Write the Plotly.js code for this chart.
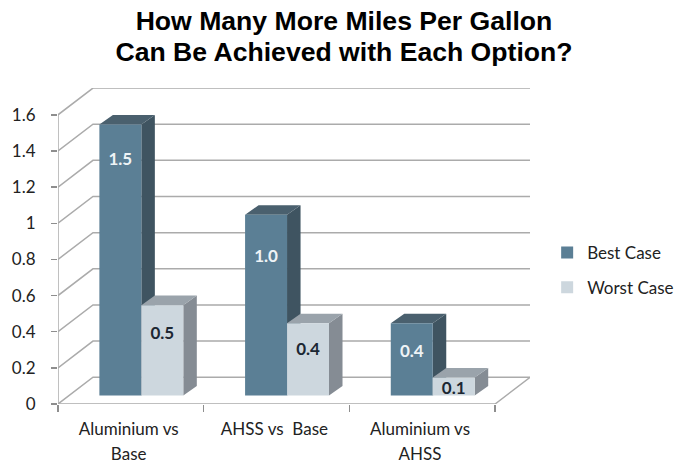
<!DOCTYPE html>
<html>
<head>
<meta charset="utf-8">
<script src="https://cdn.plot.ly/plotly-3.0.1.min.js"></script>
<style>html,body{margin:0;padding:0;background:#fff}</style>
</head>
<body>
<div id="chart" style="width:675px;height:460px"></div>
<script>
const categories = ['Aluminium vs', 'AHSS vs  Base', 'Aluminium vs'];
const categoriesLine2 = ['Base', '', 'AHSS'];
const bestCase = [1.5, 1.0, 0.4];
const worstCase = [0.5, 0.4, 0.1];
const yTicks = [0, 0.2, 0.4, 0.6, 0.8, 1, 1.2, 1.4, 1.6];
const yTickLabels = ['0', '0.2', '0.4', '0.6', '0.8', '1', '1.2', '1.4', '1.6'];

// Oblique projection, in axis units
const wallDx = 0.24, wallDy = 0.148;
const barDx = 0.0927, barDy = 0.0526;
const barLift = 0.047, barShift = 0.072, barW = 0.288;
const bestDrop = [0.199, 0.238, 0.166];
const worstDrop = [0.166, 0.155, 0.068];

const groupX = categories.map((_, i) => i + barShift);
const FONT = 'Lato, "Open Sans", sans-serif';

function polys(values, x0Of) {
  const side = {x: [], y: []}, top = {x: [], y: []};
  values.forEach((v, i) => {
    const x0 = x0Of(i), x1 = x0 + barW, t = barLift + v;
    side.x.push(x1, x1 + barDx, x1 + barDx, x1, x1, null);
    side.y.push(barLift, barLift + barDy, t + barDy, t, barLift, null);
    top.x.push(x0, x1, x1 + barDx, x0 + barDx, x0, null);
    top.y.push(t, t, t + barDy, t + barDy, t, null);
  });
  return {side, top};
}
function face(p, color, z) {
  return {type: 'scatter', mode: 'lines', x: p.x, y: p.y, fill: 'toself', fillcolor: color,
    line: {width: 0, color: color}, showlegend: false, hoverinfo: 'skip', cliponaxis: false, zorder: z};
}

// Walls and floor
const gx = [], gy = [];
yTicks.forEach(v => {
  gx.push(-0.5, -0.5 + wallDx, 2.5 + wallDx, null);
  gy.push(v, v + wallDy, v + wallDy, null);
});
gx.push(-0.5, -0.5, null, -0.5, 2.5, 2.5 + wallDx, null);
gy.push(0, 1.6, null, 0, 0, wallDy, null);
const grid = {type: 'scatter', mode: 'lines', x: gx, y: gy, connectgaps: false,
  line: {color: '#ababab', width: 1.5}, showlegend: false, hoverinfo: 'skip', cliponaxis: false, zorder: 0};

const bestX0 = i => groupX[i] - barW, worstX0 = i => groupX[i];
const bestP = polys(bestCase, bestX0), worstP = polys(worstCase, worstX0);

function bar(name, values, offset, color, z) {
  return {type: 'bar', name: name, legendgroup: name, x: groupX, y: values,
    base: values.map(() => barLift), width: barW, offset: offset,
    marker: {color: color, line: {width: 0}}, zorder: z};
}
function labels(values, drop, xOff, color) {
  return {type: 'scatter', mode: 'text', x: groupX.map(x => x + xOff),
    y: values.map((v, i) => barLift + v - drop[i]), text: values.map(v => v.toFixed(1)),
    textposition: 'middle center', textfont: {family: FONT, size: 17, color: color, weight: 700},
    showlegend: false, hoverinfo: 'skip', cliponaxis: false, zorder: 9};
}

const traces = [
  grid,
  face(bestP.side, '#3f5461', 1), face(bestP.top, '#4a606e', 1),
  bar('Best Case', bestCase, -barW, '#5b7f95', 2),
  face(worstP.side, '#858c94', 3), face(worstP.top, '#9aa3ab', 3),
  bar('Worst Case', worstCase, 0, '#cdd7de', 4),
  labels(bestCase, bestDrop, -barW / 2, '#eef3f6'),
  labels(worstCase, worstDrop, barW / 2, '#1c2733')
];

const ts = '<span style="font-size:26.6px">';
const layout = {
  width: 675, height: 460,
  margin: {l: 58, r: 0, t: 88, b: 56, pad: 0, autoexpand: false},
  paper_bgcolor: '#fff', plot_bgcolor: '#fff',
  title: {
    text: ts + 'How Many More Miles Per Gallon</span><br>' + ts + 'Can Be Achieved with Each Option?</span>',
    font: {family: '"Liberation Sans", Arial, sans-serif', size: 24, color: '#000', weight: 700},
    x: 344 / 675, xanchor: 'center', xref: 'container', y: 0.935, yanchor: 'top', yref: 'container'
  },
  barmode: 'overlay',
  showlegend: true,
  legend: {x: 0.809, xanchor: 'left', y: 0.424, yanchor: 'middle', tracegroupgap: 9.5, indentation: -10,
    font: {family: FONT, size: 17, color: '#222'}, itemwidth: 30, bgcolor: 'rgba(0,0,0,0)'},
  xaxis: {
    domain: [0, 472 / 617],
    range: [-0.5, 2.7395], showgrid: false, zeroline: false, showline: false,
    tickmode: 'array', tickvals: [-0.015, 0.985, 1.985],
    ticktext: categories.map((c, i) => {
      const s = '<span style="font-size:17px">';
      return categoriesLine2[i] ? s + c + '</span><br>' + s + categoriesLine2[i] + '</span>' : s + c + '</span>';
    }),
    tickfont: {family: FONT, size: 19, color: '#222'},
    ticks: '', ticklabelstandoff: 11, tickangle: 0,
    minor: {tickmode: 'array', tickvals: [-0.5, 0.5, 1.5, 2.5], ticks: 'outside', ticklen: 7, tickwidth: 1.5, tickcolor: '#8e8e8e', showgrid: false}
  },
  yaxis: {
    range: [0, 1.7483], showgrid: false, zeroline: false, showline: false,
    tickmode: 'array', tickvals: yTicks, ticktext: yTickLabels,
    tickfont: {family: FONT, size: 17, color: '#222'},
    ticks: 'outside', ticklen: 6, tickwidth: 1.5, tickcolor: '#8e8e8e', ticklabelstandoff: 12
  },
  hovermode: false
};
Plotly.newPlot('chart', traces, layout, {displayModeBar: false, staticPlot: true});
</script>
</body>
</html>
